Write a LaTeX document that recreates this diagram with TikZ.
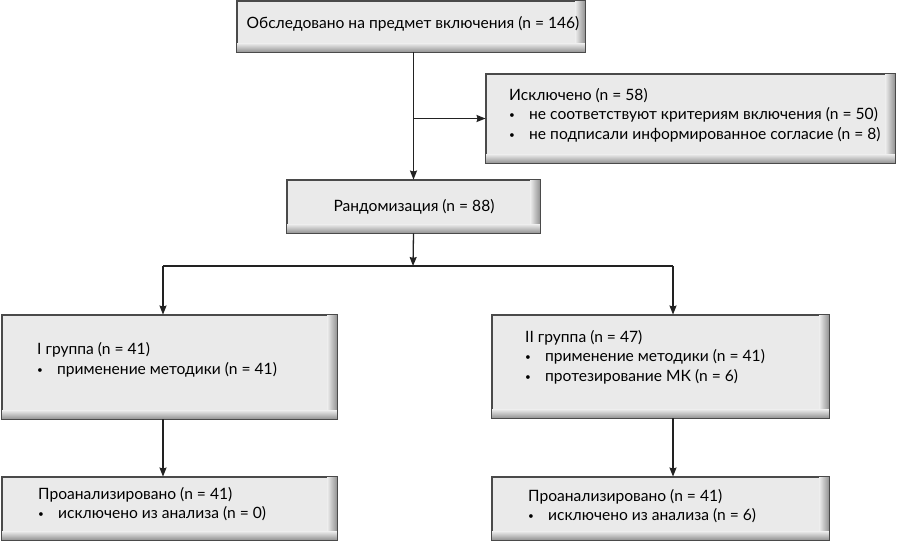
\documentclass[tikz,border=0pt]{standalone}
\usepackage{fontspec}
\setmainfont{Lato}
\usetikzlibrary{arrows.meta,fit}
\definecolor{boxfill}{HTML}{EAEAEA}
\definecolor{boxshade}{HTML}{8E8E8E}
\definecolor{boxline}{HTML}{4A4A4A}
\definecolor{lineclr}{HTML}{222222}
\tikzset{
  box/.style={draw=boxline, line width=0.9pt, fill=boxfill, inner sep=0pt},
  conn/.style={draw=lineclr, line width=1.3pt},
  arr/.style={conn, -{Stealth[length=9pt,width=7pt,inset=1pt]}},
  txt/.style={font=\fontsize{15.6}{19.5}\selectfont, inner sep=0pt, align=left, text=black},
}
\newcommand\mkbox[5]{%
  \node[box, fit={(#2,#3)(#4,#5)}] (#1) {};
  \shade[left color=boxfill, right color=boxshade] ([xshift=-10pt]#1.north east) rectangle (#1.south east);
  \shade[top color=boxfill, bottom color=boxshade] ([yshift=9pt]#1.south west) rectangle (#1.south east);
  \draw[boxline, line width=0.9pt] (#1.north west) rectangle (#1.south east);
}
\newcommand\bul{\makebox[20pt][l]{\raisebox{1pt}{\fontsize{10}{10}\selectfont•}}}
\begin{document}
\begin{tikzpicture}[x=1pt,y=-1pt]
\useasboundingbox (0,0) rectangle (897,542);
\mkbox{b1}{237}{1}{585}{52}
\mkbox{excl}{486}{74}{895}{163}
\mkbox{rand}{287}{180}{540}{233}
\mkbox{g1}{2}{315}{337}{419}
\mkbox{g2}{492}{315}{829}{418}
\mkbox{a1}{2}{477}{337}{540}
\mkbox{a2}{492}{477}{829}{540}

\node[txt] (t1) at (413,24) {Обследовано на предмет включения (n = 146)};
\node[txt, anchor=west] (t2) at (509,115) {Исключено (n = 58)\\\bul не соответствуют критериям включения (n = 50)\\\bul не подписали информированное согласие (n = 8)};
\node[txt] (t3) at (414,207) {Рандомизация (n = 88)};
\node[txt, anchor=west] (t4) at (37,360) {I группа (n = 41)\\\bul применение методики (n = 41)};
\node[txt, anchor=west] (t5) at (525,357) {II группа (n = 47)\\\bul применение методики (n = 41)\\\bul протезирование МК (n = 6)};
\node[txt, anchor=west] (t6) at (38,504) {Проанализировано (n = 41)\\\bul исключено из анализа (n = 0)};
\node[txt, anchor=west] (t7) at (528,506) {Проанализировано (n = 41)\\\bul исключено из анализа (n = 6)};

\coordinate (split) at (413,266);
\coordinate (sl) at (163,266);
\coordinate (sr) at (673,266);

\draw[arr] (b1.south -| rand.north) -- (rand.north);
\draw[arr] (excl.west -| rand.north) -- (excl.west);
\draw[arr] (rand.south) -- (split);
\draw[conn] (sl) -- (sr);
\draw[arr] (sl) -- (sl |- g1.north);
\draw[arr] (sr) -- (sr |- g2.north);
\draw[arr] (sl |- g1.south) -- (sl |- a1.north);
\draw[arr] (sr |- g2.south) -- (sr |- a2.north);
\end{tikzpicture}
\end{document}
